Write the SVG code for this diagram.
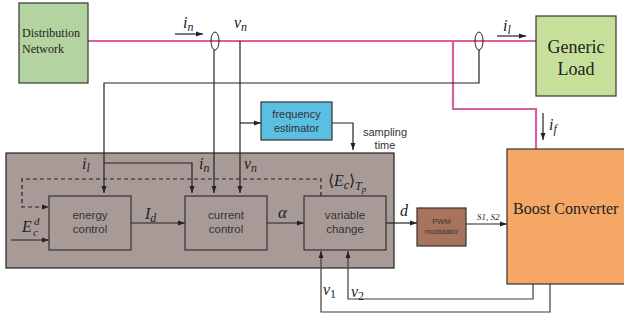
<svg xmlns="http://www.w3.org/2000/svg" width="624" height="322" viewBox="0 0 624 322">
<defs>
<style>
.sans{font-family:"Liberation Sans",Arial,sans-serif;fill:#333}
.serif{font-family:"Liberation Serif","Times New Roman",serif;fill:#222}
.math{font-family:"Liberation Serif","Times New Roman",serif;font-style:italic;fill:#222}
.w{fill:none;stroke:#222;stroke-width:1.2}
.wb{fill:none;stroke:#4a3a30;stroke-width:1.2}
.pink{fill:none;stroke:#d9609c;stroke-width:2.2}
.box{stroke:#333;stroke-width:1.2}
.blk{font-size:11.5px}
</style>
<marker id="ah" viewBox="0 0 10 10" refX="10" refY="5" markerWidth="7" markerHeight="7" markerUnits="userSpaceOnUse" orient="auto">
<path d="M0,1.5 L10,5 L0,8.5 Z" fill="#222"/>
</marker>
</defs>
<rect width="624" height="322" fill="#fff"/>

<!-- controller enclosure -->
<g id="controller">
<rect x="6" y="153" width="388" height="115" fill="#a89b97" stroke="#222" stroke-width="1.2"/>
</g>

<!-- connectors -->
<g id="connectors">
<!-- power lines -->
<path class="pink" d="M88,41 H536"/>
<path class="pink" d="M453,41 V109 H536 V149"/>
<!-- current sensors -->
<ellipse cx="215" cy="41" rx="4" ry="9" fill="none" stroke="#222" stroke-width="1"/>
<ellipse cx="479" cy="41" rx="4" ry="9" fill="none" stroke="#222" stroke-width="1"/>
<!-- i_n measurement -->
<path class="w" d="M214,50 V193" marker-end="url(#ah)"/>
<!-- v_n measurement -->
<path class="w" d="M240,41 V193" marker-end="url(#ah)"/>
<path class="w" d="M240,123 H261" marker-end="url(#ah)"/>
<!-- i_l measurement -->
<path class="w" d="M479,50 V83 H104 V193" marker-end="url(#ah)"/>
<path class="w" d="M104,163 H192 V193" marker-end="url(#ah)"/>
<!-- sampling time -->
<path class="w" d="M332,123 H353 V150" marker-end="url(#ah)"/>
<!-- energy feedback (dashed) -->
<path class="w" d="M321,196 V179 H22 V207 H49" stroke-dasharray="4,3" marker-end="url(#ah)"/>
<!-- reference input -->
<path class="w" d="M11,240 H49" marker-end="url(#ah)"/>
<!-- forward chain -->
<path class="w" d="M131,223 H185" marker-end="url(#ah)"/>
<path class="w" d="M267,223 H304" marker-end="url(#ah)"/>
<path class="w" d="M386,223 H417" marker-end="url(#ah)"/>
<path class="w" d="M466,224 H507" marker-end="url(#ah)"/>
<!-- voltage feedback -->
<path class="wb" d="M533,284 V299 H348 V251" marker-end="url(#ah)"/>
<path class="wb" d="M550,284 V312 H321 V251" marker-end="url(#ah)"/>
<!-- current direction arrows -->
<path class="w" d="M175,34 H203" stroke-width="1" marker-end="url(#ah)"/>
<path class="w" d="M497,36 H526" stroke-width="1" marker-end="url(#ah)"/>
<path class="w" d="M543,113 V140" stroke-width="1" marker-end="url(#ah)"/>
</g>

<!-- signal labels -->
<g id="labels">
<text class="math" x="183" y="28" font-size="16">i<tspan font-size="12" dy="3">n</tspan></text>
<text class="math" x="234" y="28" font-size="16">v<tspan font-size="12" dy="3">n</tspan></text>
<text class="math" x="503" y="31" font-size="16">i<tspan font-size="12" dy="3">l</tspan></text>
<text class="math" x="549" y="130" font-size="16">i<tspan font-size="12" dy="3">f</tspan></text>
<text class="math" x="82" y="169" font-size="16">i<tspan font-size="12" dy="3">l</tspan></text>
<text class="math" x="199" y="169" font-size="16">i<tspan font-size="12" dy="3">n</tspan></text>
<text class="math" x="244" y="169" font-size="16">v<tspan font-size="12" dy="3">n</tspan></text>
<text class="math" x="328" y="186" font-size="16"><tspan font-style="normal">⟨</tspan>E<tspan font-size="12" dy="3">c</tspan><tspan font-style="normal" font-size="16" dy="-3">⟩</tspan><tspan font-size="12" dy="4">T</tspan><tspan font-size="9" dy="2">p</tspan></text>
<text class="math" x="22" y="232" font-size="16">E</text>
<text class="math" x="34" y="225" font-size="11">d</text>
<text class="math" x="33" y="236" font-size="11">c</text>
<text class="math" x="145" y="219" font-size="16">I<tspan font-size="12" dy="3">d</tspan></text>
<text class="math" x="278" y="218" font-size="17">α</text>
<text class="math" x="400" y="216" font-size="16">d</text>
<text class="math" x="477" y="220" font-size="9">S1, S2</text>
<text class="math" x="323" y="295" font-size="16">v<tspan font-size="12" dy="3" font-style="normal">1</tspan></text>
<text class="math" x="351" y="297" font-size="16">v<tspan font-size="12" dy="3" font-style="normal">2</tspan></text>
<text class="sans" x="385" y="136" font-size="11" text-anchor="middle">sampling</text>
<text class="sans" x="385" y="149" font-size="11" text-anchor="middle">time</text>
</g>

<g id="distribution-network">
<rect class="box" x="19" y="3" width="69" height="80" fill="#b3d4a0"/>
<text class="serif" x="22" y="37" font-size="12">Distribution</text>
<text class="serif" x="22" y="53" font-size="12">Network</text>
</g>

<g id="generic-load">
<rect class="box" x="536" y="16" width="80" height="80" fill="#c6e09c"/>
<text class="serif" x="576" y="53" font-size="18" text-anchor="middle">Generic</text>
<text class="serif" x="576" y="75" font-size="18" text-anchor="middle">Load</text>
</g>

<g id="frequency-estimator">
<rect class="box" x="261" y="102" width="71" height="38" fill="#5bbfe2"/>
<text class="sans" x="296.5" y="118" font-size="11" text-anchor="middle">frequency</text>
<text class="sans" x="296.5" y="132" font-size="11" text-anchor="middle">estimator</text>
</g>

<g id="energy-control">
<rect class="box" x="49" y="196" width="82" height="54" fill="#a89b97"/>
<text class="sans blk" x="90" y="219" text-anchor="middle">energy</text>
<text class="sans blk" x="90" y="233" text-anchor="middle">control</text>
</g>

<g id="current-control">
<rect class="box" x="185" y="196" width="82" height="54" fill="#a89b97"/>
<text class="sans blk" x="226" y="219" text-anchor="middle">current</text>
<text class="sans blk" x="226" y="233" text-anchor="middle">control</text>
</g>

<g id="variable-change">
<rect class="box" x="304" y="196" width="82" height="54" fill="#a89b97"/>
<text class="sans blk" x="345" y="219" text-anchor="middle">variable</text>
<text class="sans blk" x="345" y="233" text-anchor="middle">change</text>
</g>

<g id="pwm-modulator">
<rect class="box" x="417" y="208" width="49" height="38" fill="#a8735c"/>
<text class="sans" x="441.5" y="224" font-size="7.5" text-anchor="middle">PWM</text>
<text class="sans" x="441.5" y="234" font-size="7.5" text-anchor="middle">modulator</text>
</g>

<g id="boost-converter">
<rect class="box" x="507" y="149" width="118" height="135" fill="#f5a866"/>
<text class="serif" x="513" y="214" font-size="16">Boost Converter</text>
</g>
</svg>
